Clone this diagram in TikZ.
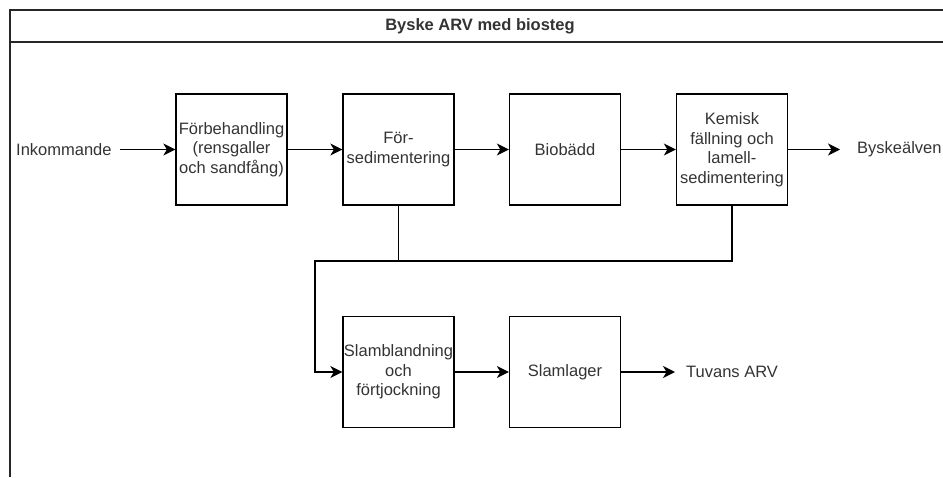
\documentclass[tikz,border=0pt]{standalone}
\usepackage{fontspec}
\setmainfont{Liberation Sans}
\usetikzlibrary{arrows.meta}
\definecolor{txt}{HTML}{333333}
\tikzset{
  box/.style={draw=black, line width=1.3pt, minimum width=111pt, minimum height=111pt, inner sep=0pt, align=center, text=txt, font=\fontsize{16.5}{19.5}\selectfont},
  lbl/.style={inner sep=0pt, text=txt, font=\fontsize{16.5}{19.5}\selectfont},
  arr/.style={draw=black, line width=1.3pt, -{Stealth[length=12pt, width=12pt, inset=3.5pt]}},
  conn/.style={draw=black, line width=1.3pt},
  frame/.style={draw=black!85, line width=1.3pt}
}
\begin{document}
\begin{tikzpicture}[x=1pt,y=-1pt]
\useasboundingbox (0,0) rectangle (943,477);
% frame
\draw[frame] (943,10) -- (10,10) -- (10,477);
\draw[frame] (10,42) -- (943,42);
\node[lbl, font=\bfseries\fontsize{16.5}{19.5}\selectfont] (title) at (480,26) {Byske ARV med biosteg};
% boxes
\node[box] (b1) at (231.5,149.5) {Förbehandling\\(rensgaller\\och sandfång)};
\node[box] (b2) at (398.5,149.5) {För-\\sedimentering};
\node[box] (b3) at (565,149.5) {Biobädd};
\node[box] (b4) at (732,149.5) {Kemisk\\fällning och\\lamell-\\sedimentering};
\node[box] (b5) at (398.5,372) {Slamblandning\\och\\förtjockning};
\node[box] (b6) at (565,372) {Slamlager};
% labels
\node[lbl, anchor=west] (in) at (16,149.5) {Inkommande};
\node[lbl, anchor=west] (by) at (857,149.5) {Byskeälven};
\node[lbl, anchor=west] (tu) at (686,372) {Tuvans ARV};
% connectors
\draw[arr] ([xshift=8pt]in.east) -- (b1.west);
\draw[arr] (b1.east) -- (b2.west);
\draw[arr] (b2.east) -- (b3.west);
\draw[arr] (b3.east) -- (b4.west);
\draw[arr] (b4.east) -- ([xshift=-17pt]by.west);
\draw[arr] (b5.east) -- (b6.west);
\draw[arr] (b6.east) -- ([xshift=-11pt]tu.west);
\coordinate (lc) at (315,261);
\draw[arr] (b4.south) |- (lc) |- (b5.west);
\draw[conn] (b2.south) -- (b2.south |- lc);
\end{tikzpicture}
\end{document}
